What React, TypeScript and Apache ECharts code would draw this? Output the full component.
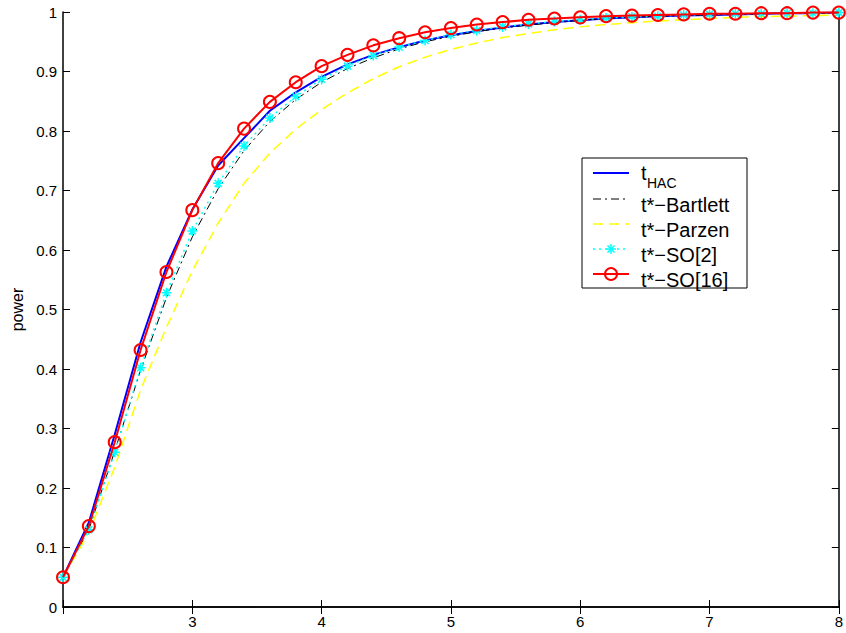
import React, { useEffect, useRef } from "react";
import * as echarts from "echarts";

const xs = [2.0, 2.2, 2.4, 2.6, 2.8, 3.0, 3.2, 3.4, 3.6, 3.8, 4.0, 4.2, 4.4, 4.6, 4.8, 5.0, 5.2, 5.4, 5.6, 5.8, 6.0, 6.2, 6.4, 6.6, 6.8, 7.0, 7.2, 7.4, 7.6, 7.8, 8.0];

const tHAC = [0.05, 0.142, 0.29, 0.445, 0.572, 0.668, 0.742, 0.788, 0.834, 0.865, 0.891, 0.912, 0.928, 0.941, 0.952, 0.961, 0.968, 0.974, 0.979, 0.983, 0.986, 0.989, 0.991, 0.993, 0.994, 0.995, 0.996, 0.997, 0.998, 0.998, 0.999];
const bartlett = [0.05, 0.13, 0.262, 0.398, 0.52, 0.622, 0.703, 0.767, 0.816, 0.853, 0.882, 0.905, 0.923, 0.938, 0.95, 0.959, 0.967, 0.973, 0.978, 0.982, 0.986, 0.989, 0.991, 0.993, 0.994, 0.995, 0.996, 0.997, 0.998, 0.998, 0.999];
const parzen = [0.05, 0.125, 0.235, 0.365, 0.47, 0.565, 0.645, 0.712, 0.763, 0.803, 0.836, 0.864, 0.888, 0.908, 0.924, 0.937, 0.948, 0.957, 0.964, 0.97, 0.975, 0.979, 0.982, 0.985, 0.987, 0.989, 0.991, 0.992, 0.993, 0.994, 0.995];
const so2 = [0.05, 0.13, 0.26, 0.402, 0.528, 0.632, 0.712, 0.775, 0.822, 0.858, 0.887, 0.909, 0.927, 0.941, 0.952, 0.962, 0.969, 0.975, 0.98, 0.984, 0.987, 0.99, 0.992, 0.993, 0.995, 0.996, 0.997, 0.997, 0.998, 0.998, 0.999];
const so16 = [0.05, 0.136, 0.277, 0.432, 0.563, 0.667, 0.746, 0.804, 0.849, 0.882, 0.909, 0.928, 0.944, 0.956, 0.966, 0.973, 0.979, 0.983, 0.987, 0.989, 0.991, 0.993, 0.994, 0.995, 0.996, 0.997, 0.997, 0.998, 0.998, 0.999, 0.999];

const FONT = "'Liberation Sans', Arial, Helvetica, sans-serif";
const STAR = "path://M5,0L5,10M0,5L10,5M1.5,1.5L8.5,8.5M1.5,8.5L8.5,1.5";

const pairs = (ys: number[]) => xs.map((x, i) => [x, ys[i]]);

export default function App() {
  const ref = useRef<HTMLDivElement>(null);
  useEffect(() => {
    if (!ref.current) return;
    const chart = echarts.init(ref.current, null, { renderer: "svg" });
    const axisLine = { show: true, lineStyle: { color: "#000", width: 1.5 } };
    const tick = { show: true, inside: true, length: 7, lineStyle: { color: "#000", width: 1 } };
    const lx0 = 593, lx1 = 629, lxm = 611;
    const rows = [173, 199, 224, 249, 274];
    const Z = 110;
    const legendText = (y: number, t: string) => ({
      type: "text", x: 641, y: y + 6, z: Z,
      style: { text: t, font: `20px ${FONT}`, fill: "#000", verticalAlign: "middle", align: "left" },
    });
    const sampleLine = (y: number, color: string, width: number, dash?: number[]) => ({
      type: "line", z: Z,
      shape: { x1: lx0, y1: y, x2: lx1, y2: y },
      style: dash ? { stroke: color, lineWidth: width, lineDash: dash } : { stroke: color, lineWidth: width },
    });
    const starLines = (cx: number, cy: number, r: number) => [
      [cx, cy - r, cx, cy + r],
      [cx - r, cy, cx + r, cy],
      [cx - r * 0.7, cy - r * 0.7, cx + r * 0.7, cy + r * 0.7],
      [cx - r * 0.7, cy + r * 0.7, cx + r * 0.7, cy - r * 0.7],
    ].map(([x1, y1, x2, y2]) => ({
      type: "line", z: Z, shape: { x1, y1, x2, y2 }, style: { stroke: "#00ffff", lineWidth: 1.5 },
    }));

    chart.setOption({
      animation: false,
      backgroundColor: "#fff",
      textStyle: { fontFamily: FONT },
      grid: { left: 63, right: 3, top: 12, bottom: 26, containLabel: false },
      xAxis: [
        {
          type: "value", min: 2, max: 8, interval: 1, position: "bottom",
          axisLine, axisTick: tick, splitLine: { show: false },
          axisLabel: {
            color: "#000", fontSize: 15, fontFamily: FONT, margin: 7,
            formatter: (v: number) => (v === 2 ? "" : String(v)),
          },
        },
        {
          type: "value", min: 2, max: 8, interval: 1, position: "top",
          axisLine, axisTick: tick, splitLine: { show: false }, axisLabel: { show: false },
        },
      ],
      yAxis: [
        {
          type: "value", min: 0, max: 1, interval: 0.1, position: "left",
          axisLine, axisTick: tick, splitLine: { show: false },
          name: "power", nameLocation: "middle", nameGap: 33, nameRotate: 90,
          nameTextStyle: { color: "#000", fontSize: 16, fontFamily: FONT },
          axisLabel: {
            color: "#000", fontSize: 15, fontFamily: FONT, margin: 6,
            formatter: (v: number) => (v === 0 ? "0" : v === 1 ? "1" : v.toFixed(1)),
          },
        },
        {
          type: "value", min: 0, max: 1, interval: 0.1, position: "right",
          axisLine, axisTick: tick, splitLine: { show: false }, axisLabel: { show: false },
        },
      ],
      series: [
        {
          name: "tHAC", type: "line", data: pairs(tHAC), showSymbol: false, symbol: "none",
          lineStyle: { color: "#0000ff", width: 2 }, itemStyle: { color: "#0000ff" }, z: 2,
        },
        {
          name: "t*−Bartlett", type: "line", data: pairs(bartlett), symbol: "none",
          lineStyle: { color: "#000", width: 1, type: [8, 4, 2, 4] }, itemStyle: { color: "#000" }, z: 3,
        },
        {
          name: "t*−Parzen", type: "line", data: pairs(parzen), symbol: "none",
          lineStyle: { color: "#ffff00", width: 1.5, type: [10, 6] }, itemStyle: { color: "#ffff00" }, z: 4,
        },
        {
          name: "t*−SO[2]", type: "line", data: pairs(so2), symbol: STAR, symbolSize: 10,
          lineStyle: { color: "#00ffff", width: 1.5, type: [2, 4] },
          itemStyle: { color: "rgba(0,0,0,0)", borderColor: "#00ffff", borderWidth: 1.5 }, z: 5,
        },
        {
          name: "t*−SO[16]", type: "line", data: pairs(so16), symbol: "circle", symbolSize: 12,
          lineStyle: { color: "#ff0000", width: 2 },
          itemStyle: { color: "rgba(0,0,0,0)", borderColor: "#ff0000", borderWidth: 2 }, z: 6,
        },
      ],
      graphic: [
        {
          type: "rect", shape: { x: 582, y: 158, width: 165, height: 130 },
          style: { fill: "#fff", stroke: "#000", lineWidth: 1 }, z: 100,
        },
        sampleLine(rows[0], "#0000ff", 2),
        { type: "text", x: 641, y: 173, z: Z, style: { text: "t", font: `20px ${FONT}`, fill: "#000", verticalAlign: "middle" } },
        { type: "text", x: 647, y: 183, z: Z, style: { text: "HAC", font: `14px ${FONT}`, fill: "#000", verticalAlign: "middle" } },
        sampleLine(rows[1], "#000", 1, [8, 4, 2, 4]),
        legendText(rows[1], "t*−Bartlett"),
        sampleLine(rows[2], "#ffff00", 1.5, [10, 6]),
        legendText(rows[2], "t*−Parzen"),
        sampleLine(rows[3], "#00ffff", 1.5, [2, 4]),
        ...starLines(lxm, rows[3], 5),
        legendText(rows[3], "t*−SO[2]"),
        sampleLine(rows[4], "#ff0000", 2),
        { type: "circle", z: Z, shape: { cx: lxm, cy: rows[4], r: 6 }, style: { fill: "none", stroke: "#ff0000", lineWidth: 2 } },
        legendText(rows[4], "t*−SO[16]"),
      ],
    });
    return () => chart.dispose();
  }, []);
  return (
    <div
      ref={ref}
      style={{ position: "absolute", left: 0, top: 0, width: 846, height: 633 }}
    />
  );
}
